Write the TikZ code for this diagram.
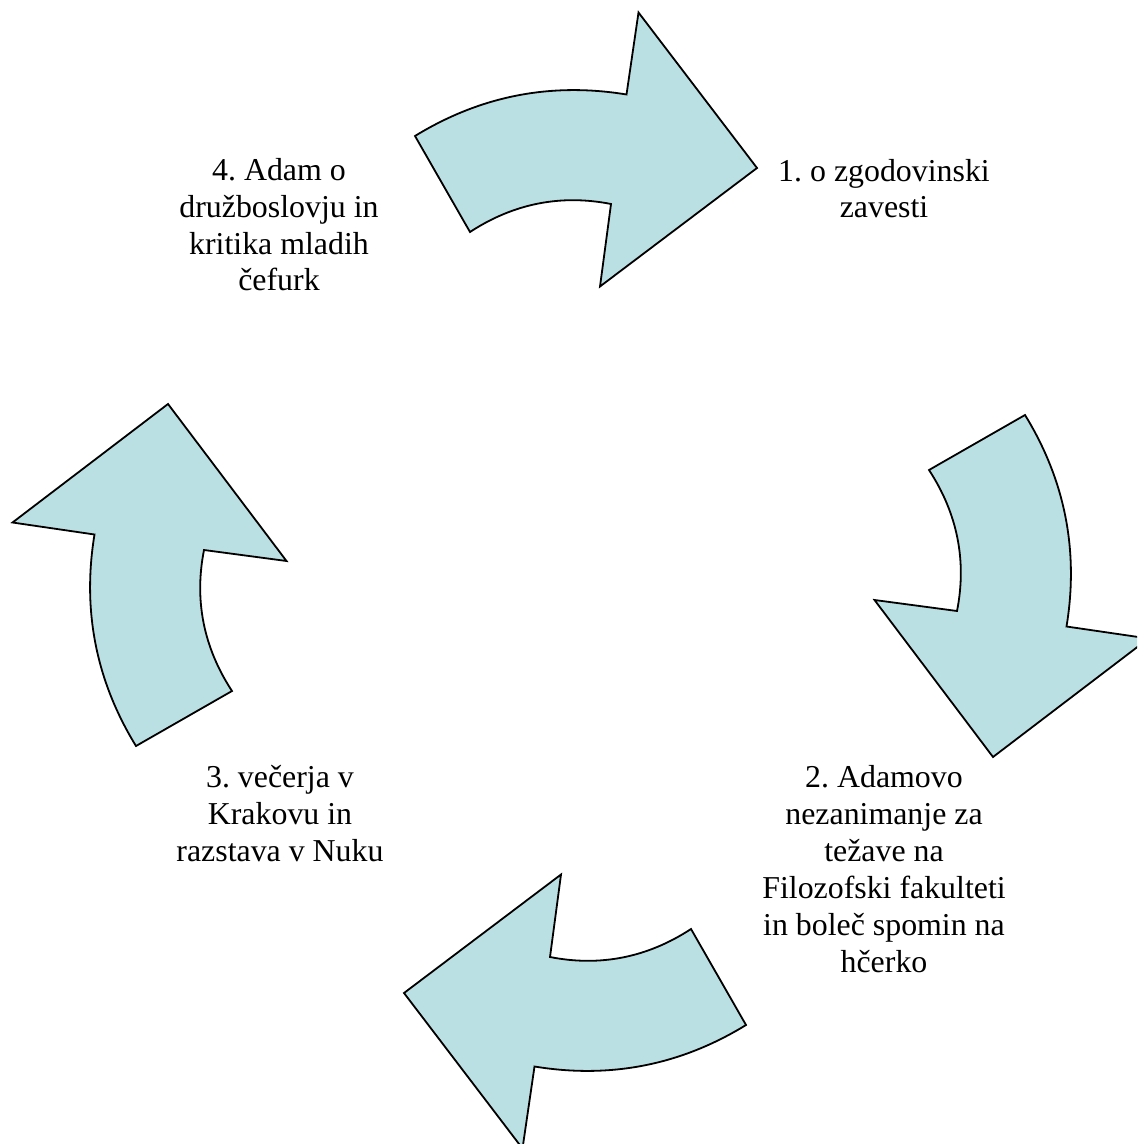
\documentclass[tikz,border=0pt]{standalone}
\usepackage{fontspec}
\setmainfont{Liberation Serif}
\frenchspacing
\definecolor{arrowfill}{HTML}{BBE0E3}
\begin{document}
\begin{tikzpicture}[x=0.75pt,y=-0.75pt,
  cyclearrow/.style={fill=arrowfill,draw=black,line width=1.35pt,line join=miter},
  lbl/.style={align=center,inner sep=0pt,anchor=base,font=\fontsize{23.9pt}{27.7pt}\selectfont}]
\useasboundingbox (0,0) rectangle (1137,1144);
\begin{scope}
\clip (0,0) rectangle (1137,1144);
\foreach \a in {0,-90,-180,-270}{
  \path[cyclearrow, rotate around={\a:(580.5,580.5)}]
    (415,136) .. controls (480.5,95.8) and (551.1,82.1) .. (626.5,94.5)
    -- (638.5,12.5) -- (757,168) -- (600,286.5) -- (611,204)
    .. controls (560.9,194.1) and (513.6,203.5) .. (470,232) -- cycle;
}
\end{scope}
\node[lbl] (l1) at (884,218) {1. o zgodovinski\\zavesti};
\node[lbl] (l2) at (884,972) {2. Adamovo\\nezanimanje za\\težave na\\Filozofski fakulteti\\in boleč spomin na\\hčerko};
\node[lbl] (l3) at (280,861) {3. večerja v\\Krakovu in\\razstava v Nuku};
\node[lbl] (l4) at (279,291) {4. Adam o\\družboslovju in\\kritika mladih\\čefurk};
\end{tikzpicture}
\end{document}
